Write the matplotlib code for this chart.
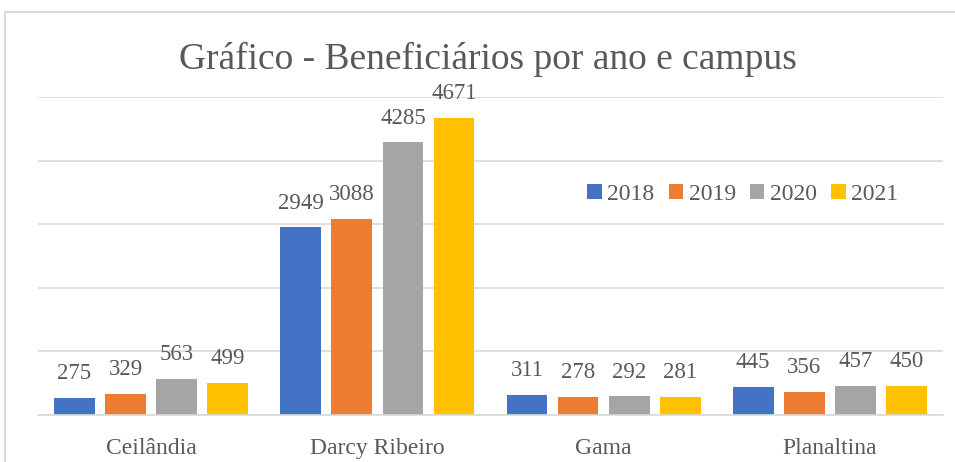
import numpy as np
import matplotlib.pyplot as plt
from matplotlib.lines import Line2D
from matplotlib.patches import Patch

campi = ["Ceilândia", "Darcy Ribeiro", "Gama", "Planaltina"]
anos = ["2018", "2019", "2020", "2021"]
v2018 = [275, 2949, 311, 445]
v2019 = [329, 3088, 278, 356]
v2020 = [563, 4285, 292, 457]
v2021 = [499, 4671, 281, 450]

cores = ["#4472C4", "#ED7D31", "#A5A5A5", "#FFC000"]
texto = "#595959"
grade = "#D9D9D9"

plt.rcParams['font.family'] = ['Liberation Serif', 'DejaVu Serif']

fig = plt.figure(figsize=(9.55, 4.62), dpi=100)
ax = fig.add_axes([38 / 955, 1 - 415 / 462, 905 / 955, 318 / 462])

x = np.arange(len(campi))
largura = 0.18
passo = 0.226
series = [v2018, v2019, v2020, v2021]
for i, (vals, cor, ano) in enumerate(zip(series, cores, anos)):
    pos = x + (i - 1.5) * passo
    barras = ax.bar(pos, vals, largura, color=cor, label=ano, zorder=2)
    for b, v in zip(barras, vals):
        ax.annotate(str(v), (b.get_x() + b.get_width() / 2, v),
                    xytext=(0, 10), textcoords="offset points",
                    ha="center", va="bottom", fontsize=16.5, color=texto)

ax.set_xlim(-0.5, len(campi) - 0.5)
ax.set_ylim(0, 5000)
ax.set_yticks(np.arange(0, 5001, 1000))
ax.yaxis.grid(True, color=grade, linewidth=1.2, zorder=0)
ax.tick_params(axis="y", left=False, labelleft=False)
ax.tick_params(axis="x", bottom=False, labelsize=17, labelcolor=texto, pad=13)
ax.set_xticks(x)
ax.set_xticklabels(campi)
for s in ["top", "right", "left"]:
    ax.spines[s].set_visible(False)
ax.spines["bottom"].set_color(grade)
ax.spines["bottom"].set_linewidth(1.2)

fig.text(488 / 955, 1 - 59 / 462, "Gráfico - Beneficiários por ano e campus",
         ha="center", va="center", fontsize=27, color=texto)

handles = [Patch(facecolor=c, edgecolor="none") for c in cores]
fig.legend(handles, anos, loc="center", bbox_to_anchor=(743 / 955, 1 - 194 / 462),
           ncol=4, frameon=False, fontsize=17, labelcolor=texto,
           handlelength=0.6, handleheight=0.6, handletextpad=0.25, columnspacing=0.6)

# moldura do gráfico (cortada à direita e embaixo)
fig.add_artist(Line2D([5 / 955, 5 / 955], [0, 1 - 12 / 462], color=grade, lw=1.5))
fig.add_artist(Line2D([5 / 955, 1], [1 - 12 / 462, 1 - 12 / 462], color=grade, lw=1.5))

fig.savefig("out.png", dpi=100)
